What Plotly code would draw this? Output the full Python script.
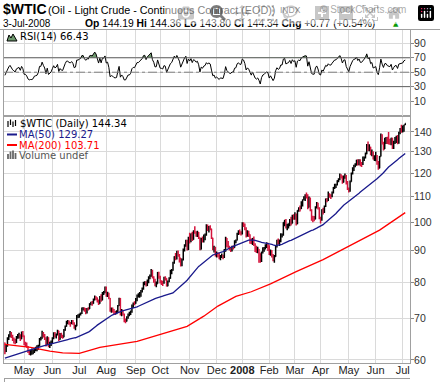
import numpy as np
import pandas as pd
import plotly.graph_objects as go

# ---------------- data ----------------
start_date = "2007-04-10"
end_date = "2008-07-03"
holidays = ["2007-05-28", "2007-07-04", "2007-09-03", "2007-11-22", "2007-12-25",
            "2008-01-01", "2008-01-21", "2008-02-18", "2008-03-21", "2008-05-26"]

prev_close_before_start = 63.9
rsi_seed_avg_gain = 0.55
rsi_seed_avg_loss = 0.50

close_apr07 = [61.9,63.2,64.9,65.6,66.4,65.5,64.8,64.4,64.0,65.2,65.7,65.8,64.9,66.4,65.7]
close_may07 = [63.7,63.7,63.1,61.9,61.5,61.6,61.6,61.8,62.4,62.5,62.6,63.2,64.9,64.9,66.3,65.6,65.0,63.5,65.2,63.2,63.5,64.0]
close_jun07 = [65.1,66.2,65.6,65.9,66.9,64.8,65.9,65.4,65.3,67.0,68.0,69.1,69.1,68.8,68.7,69.2,68.8,67.8,68.0,70.7,70.7]
close_jul07 = [71.1,71.4,72.8,72.8,72.2,71.9,72.6,72.5,73.9,74.1,74.0,75.0,75.9,75.6,74.9,74.0,75.9,74.9,77.0,77.0,78.2]
close_aug07 = [76.5,76.9,75.5,72.0,72.4,72.2,71.6,71.5,71.6,73.4,75.4,71.0,71.9,71.1,69.3,69.3,70.3,71.1,71.1,71.7,73.5,74.1,74.0]
close_sep07 = [75.1,76.3,76.3,76.7,77.5,78.2,79.9,80.1,79.1,80.6,81.5,81.9,83.3,81.6,80.9,79.5,79.6,83.0,81.7]
close_oct07 = [80.2,80.1,79.9,81.4,81.2,79.0,80.3,81.3,83.1,83.7,86.1,88.0,87.4,89.5,88.6,87.6,85.3,87.1,90.5,91.9,93.5,90.4,94.5]
close_nov07 = [93.5,95.9,93.9,96.7,96.4,95.5,96.3,94.6,90.4,94.1,93.4,95.1,95.6,98.0,97.3,98.2,97.7,94.4,90.6,91.0,88.7]
close_dec07 = [89.3,88.3,87.5,88.3,88.3,87.9,90.0,94.4,92.2,91.3,90.6,90.5,91.3,91.1,93.3,93.5,95.9,96.6,96.0,96.0]
close_jan08 = [99.6,99.2,97.9,95.1,96.3,95.7,93.7,92.7,94.2,91.9,90.8,90.1,90.6,89.2,86.6,89.4,90.7,91.0,91.6,92.3,91.8]
close_feb08 = [89.0,90.0,88.4,87.1,88.1,91.8,93.6,92.8,93.3,95.5,95.5,100.0,100.7,98.2,98.8,99.2,100.9,99.6,102.6,101.8]
close_mar08 = [102.5,99.5,104.5,105.5,105.2,107.9,108.8,109.9,110.3,110.2,105.7,109.4,104.5,101.8,101.2,101.2,105.9,107.6,105.6,101.6]
close_apr08 = [100.9,104.8,103.9,106.2,109.1,108.5,110.9,110.1,110.1,111.8,113.8,114.9,115.0,116.7,117.5,119.4,118.3,116.1,118.5,119.0,115.6,113.5]
close_may08 = [112.5,116.3,120.0,121.8,123.5,123.7,126.0,124.2,125.8,124.1,124.1,126.3,127.1,129.1,133.2,130.8,132.2,128.9,130.0,126.6,127.4]
close_jun08 = [127.8,124.3,122.3,127.8,138.5,134.4,131.3,136.4,136.7,134.9,134.6,134.0,136.7,131.9,134.6,136.7,136.9,134.6,139.6,140.2,140.0]
close_jul08 = [141.0,143.57,144.34]

high_apr07 = [64.0,63.6,65.3,66.0,66.8,66.6,65.9,65.2,64.9,65.6,66.1,66.4,66.0,66.7,66.8]
high_may07 = [65.6,64.2,64.0,63.2,62.3,62.3,62.6,62.4,62.8,63.0,63.4,63.5,65.1,65.4,66.9,66.6,66.1,65.3,65.5,65.3,64.2,64.5]
high_jun07 = [65.3,66.5,66.6,66.2,67.1,66.9,66.3,66.4,65.9,67.3,68.2,69.4,69.6,69.5,69.1,69.6,69.6,69.0,68.4,70.9,71.1]
high_jul07 = [71.3,71.6,72.9,73.0,72.9,72.8,72.8,73.0,74.1,74.5,74.7,75.4,76.2,76.0,75.7,75.1,76.1,76.6,77.2,77.5,78.8]
high_aug07 = [78.8,77.3,77.0,75.1,72.9,72.9,72.5,72.0,72.2,73.6,75.6,75.5,72.5,72.3,71.3,70.0,70.6,71.3,71.8,72.1,73.7,74.3,74.6]
high_sep07 = [75.5,76.5,76.9,77.2,77.8,78.5,80.2,80.4,80.4,80.9,81.9,82.4,84.1,83.9,81.9,81.1,80.3,83.2,83.3]
high_oct07 = [82.0,80.7,80.5,81.7,81.9,81.3,80.6,81.6,83.9,84.1,86.4,88.2,89.3,90.0,90.1,88.9,87.6,87.5,90.8,92.2,93.8,93.8,94.8]
high_nov07 = [96.2,96.0,96.6,97.1,98.6,96.8,97.0,96.5,94.6,94.5,94.9,95.6,96.0,99.3,99.2,98.7,99.0,97.7,94.5,91.7,91.4]
high_dec07 = [89.8,89.4,89.3,88.6,89.1,88.7,90.6,94.8,94.1,93.3,91.7,91.3,91.7,91.8,93.6,93.9,96.2,97.1,97.4,96.8]
high_jan08 = [100.1,100.1,99.6,98.2,97.1,97.0,95.6,94.2,94.4,94.9,92.6,91.7,91.4,89.8,89.1,89.8,91.2,91.3,92.2,92.9,92.7]
high_feb08 = [91.9,90.4,90.3,88.9,88.6,92.0,93.8,94.2,93.9,96.1,96.0,100.1,101.0,101.3,99.5,99.7,101.3,102.1,102.9,103.1]
high_mar08 = [103.9,103.4,104.6,105.8,106.5,108.2,108.9,110.2,111.0,111.8,111.0,110.1,109.7,105.0,102.5,102.4,106.2,107.9,107.6,105.8]
high_apr08 = [102.1,105.0,105.6,106.5,109.3,109.5,112.2,111.4,111.0,112.2,114.1,115.5,115.5,117.0,117.8,119.9,119.6,119.0,119.0,119.9,119.3,116.6]
high_may08 = [113.9,116.8,120.4,122.7,123.9,124.6,126.2,126.4,126.4,126.4,125.2,127.8,127.8,129.6,133.8,135.1,133.7,132.4,131.1,130.1,128.3]
high_jun08 = [130.0,128.5,125.6,128.0,139.1,138.8,135.0,136.9,137.4,137.5,139.9,136.4,137.0,137.0,135.5,137.4,138.0,138.3,140.0,142.0,143.7]
high_jul08 = [143.3,143.7,144.36]

low_apr07 = [61.3,61.8,63.0,64.6,65.3,65.1,64.4,63.8,63.6,63.9,64.9,65.0,64.4,64.8,65.3]
low_may07 = [63.4,63.0,62.8,61.6,61.1,61.0,61.2,61.3,61.6,62.0,62.0,62.3,63.1,64.5,64.9,65.2,64.6,63.1,63.6,62.9,62.7,63.2]
low_jun07 = [63.8,64.8,65.2,65.0,65.7,64.4,64.7,65.1,64.9,65.3,66.9,67.9,68.5,68.4,67.9,68.5,68.4,67.4,67.0,68.1,70.1]
low_jul07 = [70.2,70.8,71.2,72.1,71.8,71.1,71.3,72.1,72.5,73.5,73.4,73.9,74.9,74.9,74.3,73.6,73.9,74.5,74.9,76.4,76.9]
low_aug07 = [75.9,75.8,75.2,71.8,71.5,71.6,71.1,70.9,71.1,71.5,73.3,70.8,70.6,70.8,69.0,68.8,69.2,69.9,70.6,70.9,71.5,72.8,73.5]
low_sep07 = [73.9,74.6,75.7,75.6,75.9,77.1,77.9,79.2,78.8,79.0,79.8,81.0,81.7,81.2,79.9,78.9,78.6,79.6,81.1]
low_oct07 = [79.7,79.3,79.0,79.6,80.6,78.8,78.9,80.1,81.1,82.5,83.6,85.8,86.9,87.1,88.0,86.2,84.9,85.0,86.8,89.8,91.4,90.1,90.3]
low_nov07 = [92.5,92.9,93.3,93.8,95.9,94.8,94.7,94.0,90.2,90.6,92.8,92.8,93.6,95.2,96.9,96.3,97.1,94.0,90.2,89.4,88.1]
low_dec07 = [87.8,87.9,87.2,86.9,87.6,87.2,87.6,89.7,91.3,90.8,90.1,89.6,89.8,90.4,91.0,92.6,93.5,95.4,95.6,95.3]
low_jan08 = [95.6,98.3,97.1,94.6,94.8,94.7,92.4,92.3,92.0,91.6,89.6,89.3,89.2,86.1,86.1,86.3,89.1,89.7,90.4,90.9,89.9]
low_feb08 = [88.6,88.4,87.8,86.6,86.1,88.0,91.1,92.1,91.6,92.9,94.6,95.2,98.6,97.8,97.1,97.8,98.6,98.9,99.7,101.0]
low_mar08 = [101.0,98.9,99.3,104.0,104.1,105.1,106.1,108.6,108.3,109.3,105.0,105.9,104.2,100.6,100.1,100.4,101.3,105.3,104.9,101.2]
low_apr08 = [99.6,100.6,103.0,103.6,105.9,107.8,108.3,109.6,109.1,109.8,111.3,113.2,113.6,114.7,116.1,117.0,117.7,115.4,116.0,117.6,115.1,112.8]
low_may08 = [111.8,112.1,116.3,119.5,121.0,122.7,123.5,123.5,123.7,123.2,122.9,123.8,125.6,126.8,128.8,130.4,130.2,128.3,127.9,126.3,125.6]
low_jun08 = [125.5,123.9,121.6,122.8,127.8,133.6,130.6,131.7,133.8,133.8,133.6,133.4,133.2,131.3,131.4,133.8,134.3,133.7,134.0,138.8,139.5]
low_jul08 = [139.7,140.0,143.80]

# moving averages (bar index, value)
ma50_early_idx = [0, 10, 20, 30, 40, 48]
ma50_early_val = [60.4, 61.4, 62.3, 63.2, 63.9, 64.5]
ma200_idx = [0, 20, 35, 45, 58, 74, 103, 121, 142, 155, 166, 180, 192, 207, 227, 248, 277, 292, 312]
ma200_val = [63.6, 62.9, 62.0, 61.6, 61.5, 62.9, 64.3, 65.9, 68.0, 70.6, 73.3, 76.0, 77.3, 79.6, 83.3, 87.1, 93.6, 97.2, 103.71]

price_ticks = [60, 70, 80, 90, 100, 110, 120, 130, 140]
rsi_ticks = [10, 30, 50, 70, 90]
month_abbr = ["Jan", "Feb", "Mar", "Apr", "May", "Jun", "Jul", "Aug", "Sep", "Oct", "Nov", "Dec"]

# ---------------- assemble ----------------
closes = (close_apr07 + close_may07 + close_jun07 + close_jul07 + close_aug07 + close_sep07 + close_oct07 +
          close_nov07 + close_dec07 + close_jan08 + close_feb08 + close_mar08 + close_apr08 + close_may08 +
          close_jun08 + close_jul08)
highs = (high_apr07 + high_may07 + high_jun07 + high_jul07 + high_aug07 + high_sep07 + high_oct07 +
         high_nov07 + high_dec07 + high_jan08 + high_feb08 + high_mar08 + high_apr08 + high_may08 +
         high_jun08 + high_jul08)
lows = (low_apr07 + low_may07 + low_jun07 + low_jul07 + low_aug07 + low_sep07 + low_oct07 +
        low_nov07 + low_dec07 + low_jan08 + low_feb08 + low_mar08 + low_apr08 + low_may08 +
        low_jun08 + low_jul08)

days = pd.bdate_range(start_date, end_date)
days = days[~days.isin(pd.to_datetime(holidays))]
n = len(days)
assert len(closes) == n and len(highs) == n and len(lows) == n, (n, len(closes), len(highs), len(lows))

cl = np.array(closes, dtype=float)
op = np.concatenate([[prev_close_before_start], cl[:-1]])
hi = np.maximum(np.array(highs, dtype=float), np.maximum(op, cl))
lo = np.minimum(np.array(lows, dtype=float), np.minimum(op, cl))
idx = np.arange(n)

# MA50: early part, rest computed from closes
ma50_x = list(ma50_early_idx) + list(range(49, n))
ma50_y = list(ma50_early_val) + [cl[i - 49:i + 1].mean() for i in range(49, n)]

# RSI(14), Wilder smoothing from a seeded average
d = cl - op
g = np.clip(d, 0, None)
ls = np.clip(-d, 0, None)
ag = np.zeros(n)
al = np.zeros(n)
pg, pl = rsi_seed_avg_gain, rsi_seed_avg_loss
for i in range(n):
    pg = (pg * 13 + g[i]) / 14
    pl = (pl * 13 + ls[i]) / 14
    ag[i], al[i] = pg, pl
rsi = 100 - 100 / (1 + ag / al)

# month ticks
tick_idx, tick_txt = [], []
for i in range(1, n):
    if days[i].month != days[i - 1].month:
        tick_idx.append(i)
        m = days[i].month
        tick_txt.append("<b>%d</b>" % days[i].year if m == 1 else month_abbr[m - 1])

# ---------------- figure ----------------
W, H = 440, 382
L, R, T, B = 4, 30, 30, 19
PW, PH = W - L - R, H - T - B
split = (H - B - 115.5) / PH


def px(x):
    return (x - L) / PW


def py(y):
    return (H - B - y) / PH


fig = go.Figure()

RSI_FILL = "#6f9a6f"
fig.add_trace(go.Scatter(x=idx, y=[70] * n, mode="lines", line=dict(width=0), xaxis="x2", yaxis="y2", hoverinfo="skip"))
fig.add_trace(go.Scatter(x=idx, y=np.maximum(rsi, 70), mode="lines", line=dict(width=0), fill="tonexty",
                         fillcolor=RSI_FILL, xaxis="x2", yaxis="y2", hoverinfo="skip"))
fig.add_trace(go.Scatter(x=idx, y=[30] * n, mode="lines", line=dict(width=0), xaxis="x2", yaxis="y2", hoverinfo="skip"))
fig.add_trace(go.Scatter(x=idx, y=np.minimum(rsi, 30), mode="lines", line=dict(width=0), fill="tonexty",
                         fillcolor=RSI_FILL, xaxis="x2", yaxis="y2", hoverinfo="skip"))
fig.add_trace(go.Scatter(x=idx, y=rsi, mode="lines", line=dict(color="black", width=1), xaxis="x2", yaxis="y2"))

fig.add_trace(go.Scatter(x=ma200_idx, y=ma200_val, mode="lines", line=dict(color="#ff0000", width=1.3)))
fig.add_trace(go.Scatter(x=ma50_x, y=ma50_y, mode="lines", line=dict(color="#1a1a8c", width=1.3)))
fig.add_trace(go.Ohlc(x=idx, open=op, high=hi, low=lo, close=cl, tickwidth=0.5,
                      increasing=dict(line=dict(color="black", width=1.5)),
                      decreasing=dict(line=dict(color="#d4143c", width=1.5))))

GRID = "#dadada"
BORDER = "#a0a0a0"
TICKFONT = dict(family="Liberation Sans, Arial, sans-serif", size=10.5, color="#333")

fig.update_layout(
    width=W, height=H, margin=dict(l=L, r=R, t=T, b=B),
    paper_bgcolor="white", plot_bgcolor="white", showlegend=False, hovermode=False,
    xaxis=dict(domain=[0, 1], anchor="y", range=[-0.7, 315.7], tickvals=tick_idx, ticktext=tick_txt,
               showgrid=True, gridcolor=GRID, gridwidth=1, zeroline=False, showline=True, linecolor=BORDER,
               mirror=True, ticks="", ticklabelstandoff=-3,
               tickfont=dict(family="Liberation Sans, Arial, sans-serif", size=11, color="#222"),
               rangeslider=dict(visible=False), fixedrange=True),
    yaxis=dict(domain=[0, split], anchor="x", type="log", range=[np.log10(59.33), np.log10(59.33) + 0.3992],
               side="right", tickvals=price_ticks, ticktext=[str(v) for v in price_ticks],
               showgrid=True, gridcolor=GRID, zeroline=False, showline=True, linecolor=BORDER, mirror=True,
               ticks="outside", ticklen=3, tickcolor="#888", tickfont=TICKFONT, ticklabelstandoff=-2),
    xaxis2=dict(domain=[0, 1], anchor="y2", range=[-0.7, 315.7], tickvals=tick_idx, showticklabels=False,
                showgrid=True, gridcolor=GRID, zeroline=False, showline=True, linecolor=BORDER, mirror=True,
                ticks=""),
    yaxis2=dict(domain=[split, 1], anchor="x2", range=[-10, 108.5], side="right", tickvals=rsi_ticks,
                ticktext=[str(v) for v in rsi_ticks], showgrid=True, gridcolor=GRID, zeroline=False,
                showline=True, linecolor=BORDER, mirror=True, ticks="outside", ticklen=3, tickcolor="#888",
                tickfont=TICKFONT, ticklabelstandoff=-2),
)

shapes = []
# RSI reference lines
for lvl in (70, 30):
    shapes.append(dict(type="line", xref="x2 domain", yref="y2", x0=0, x1=1, y0=lvl, y1=lvl,
                       line=dict(color="#606060", width=1)))
shapes.append(dict(type="line", xref="x2 domain", yref="y2", x0=0, x1=1, y0=50, y1=50,
                   line=dict(color="#808080", width=1, dash="dashdot")))
# header separator and bottom panel edge
shapes.append(dict(type="line", xref="paper", yref="paper", x0=px(0), x1=px(440), y0=py(29.5), y1=py(29.5),
                   line=dict(color=BORDER, width=1)))
shapes.append(dict(type="line", xref="paper", yref="paper", x0=px(4), x1=px(410), y0=py(378.5), y1=py(378.5),
                   line=dict(color=BORDER, width=1)))
shapes.append(dict(type="line", xref="paper", yref="paper", x0=px(4.5), x1=px(4.5), y0=py(378.5), y1=py(382),
                   line=dict(color=BORDER, width=1)))

# legend icons
for xx, y0, y1 in [(8, 121, 127), (10.5, 119.5, 125), (13, 121.5, 127), (15.5, 120, 126)]:
    shapes.append(dict(type="line", xref="paper", yref="paper", x0=px(xx), x1=px(xx), y0=py(y0), y1=py(y1),
                       line=dict(color="black", width=1.2)))
shapes.append(dict(type="line", xref="paper", yref="paper", x0=px(7), x1=px(17), y0=py(134.5), y1=py(134.5),
                   line=dict(color="#1a1a8c", width=2)))
shapes.append(dict(type="line", xref="paper", yref="paper", x0=px(7), x1=px(17), y0=py(145), y1=py(145),
                   line=dict(color="#ff0000", width=2)))
for xx, ytop in [(8, 154), (10.5, 151.5), (13, 150.5), (15.5, 153)]:
    shapes.append(dict(type="line", xref="paper", yref="paper", x0=px(xx), x1=px(xx), y0=py(159), y1=py(ytop),
                       line=dict(color="#666", width=1.8)))
# RSI icon (small mountain)
pts = [(7, 41), (9, 35), (11, 38), (13, 34), (17, 41)]
path = "M " + " L ".join("%f,%f" % (px(a), py(b)) for a, b in pts) + " Z"
shapes.append(dict(type="path", xref="paper", yref="paper", path=path, fillcolor=RSI_FILL,
                   line=dict(color="black", width=1)))
fig.update_layout(shapes=shapes)

SANS = "Liberation Sans, Arial, sans-serif"
DV = "DejaVu Sans, Verdana, sans-serif"


def ann(x, y, text, size, color="#000", family=SANS, xanchor="left"):
    return dict(xref="paper", yref="paper", x=px(x), y=py(y), xanchor=xanchor, yanchor="middle",
                text=text, showarrow=False, borderpad=0, font=dict(family=family, size=size, color=color))


anns = [
    ann(2, 8.5, "<b>$WTIC</b>", 14),
    ann(47, 9.5, "(Oil - Light Crude - Continuous Contract (EOD))", 10.8),
    ann(278.5, 9.5, "INDX", 8.5, "#222"),
    ann(319, 9.5, "© StockCharts.com", 10, "#555"),
    ann(2, 23.5, "3-Jul-2008", 10),
    ann(84, 23.5, "<b>Op</b> 144.19 <b>Hi</b> 144.36 <b>Lo</b> 143.80 <b>Cl</b> 144.34 "
                  "<b>Chg</b> +0.77 (+0.54%)", 10.3),
    ann(392, 23.5, "▲", 7, "#0a9a0a", DV),
    ann(19, 37, "RSI(14) 66.43", 10, "#000", DV),
    ann(19, 123.5, "$WTIC (Daily) 144.34", 10, "#000", DV),
    ann(18, 134.3, "MA(50) 129.27", 10, "#1a1a8c", DV),
    ann(18, 145, "MA(200) 103.71", 10, "#ff0000", DV),
    ann(18, 155.5, "Volume undef", 10, "#555", DV),
]
fig.update_layout(annotations=anns)

fig.write_html("out.html", post_script="document.body.style.margin='0';document.body.style.padding='0';")
